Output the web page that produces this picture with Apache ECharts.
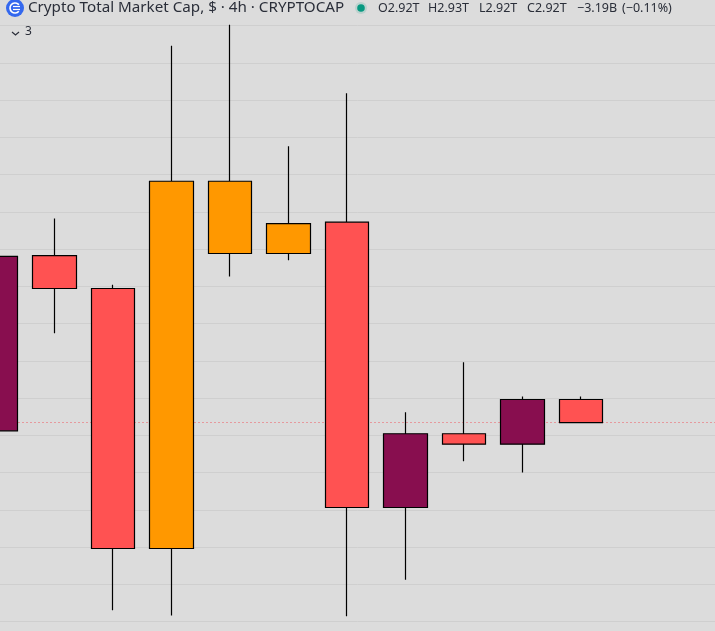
<!DOCTYPE html>
<html>
<head>
<meta charset="utf-8">
<style>html,body{margin:0;padding:0;background:#dcdcdc;overflow:hidden}#c{width:715px;height:631px}</style>
<script src="https://cdn.jsdelivr.net/npm/echarts@6/dist/echarts.min.js"></script>
</head>
<body>
<div id="c"></div>
<script>
// Values are in billions of dollars of market cap.
const categories = ['c1','c2','c3','c4','c5','c6','c7','c8','c9','c10','c11','c12','c13'];
const opens  = [2920.6, 2944.1, 2939.7, 2904.8, 2954.1, 2944.4, 2948.6, 2910.3, 2920.2, 2918.8, 2924.8];
const closes = [2944.0, 2939.7, 2904.8, 2954.1, 2944.4, 2948.4, 2910.3, 2920.2, 2918.8, 2924.8, 2921.7];
const lows   = [2919.0, 2933.7, 2896.5, 2895.8, 2941.3, 2943.5, 2895.7, 2900.6, 2916.5, 2915.0, 2921.7];
const highs  = [2946.0, 2949.1, 2940.2, 2972.3, 2975.1, 2958.8, 2965.9, 2923.1, 2929.8, 2925.2, 2925.2];
const kinds  = ['up','down','down','hot','hot','hot','down','up','down','up','down'];
const kindColors = {up:'#880e4f', down:'#ff5252', hot:'#ff9800'};
const titleText = 'Crypto Total Market Cap, $ · 4h · CRYPTOCAP';
const ohlcLabels = ['O2.92T','H2.93T','L2.92T','C2.92T','−3.19B','(−0.11%)'];
const ohlcLefts = [378,428,479,527,577,622];
const collapsedCount = '3';

const candleData = opens.map((o,i)=>({
  value:[o,closes[i],lows[i],highs[i]],
  itemStyle:{color:kindColors[kinds[i]],color0:kindColors[kinds[i]],borderColor:'#000',borderColor0:'#000',borderWidth:1.2}
}));
const lastClose = closes[closes.length-1];
const font = '"Noto Sans", sans-serif';

const graphic = [
  {type:'rect',shape:{x:0,y:0,width:715,height:24},style:{fill:'#dcdcdc'},z:9},
  {type:'circle',shape:{cx:15,cy:8,r:9},style:{fill:'#3468ee'},z:10},
  {type:'arc',shape:{cx:15,cy:8,r:5,startAngle:0.7,endAngle:5.6},style:{stroke:'#fff',lineWidth:1.6,fill:'none'},z:11},
  {type:'polyline',shape:{points:[[13,6.5],[20,6.5]]},style:{stroke:'#fff',lineWidth:1.2},z:11},
  {type:'polyline',shape:{points:[[13,9.5],[20,9.5]]},style:{stroke:'#fff',lineWidth:1.2},z:11},
  {type:'text',left:28,top:0,style:{text:titleText,font:'15.2px '+font,fill:'#2a2e39'},z:10},
  {type:'circle',shape:{cx:361,cy:8,r:6},style:{fill:'rgba(8,153,129,0.15)'},z:10},
  {type:'circle',shape:{cx:361,cy:8,r:3.8},style:{fill:'#089981'},z:11},
  {type:'polyline',shape:{points:[[12,32],[15.5,35],[19,32]]},style:{stroke:'#2a2e39',lineWidth:1.2,fill:'none'},z:10},
  {type:'text',left:25,top:26,style:{text:collapsedCount,font:'12px '+font,fill:'#2a2e39'},z:10}
];
ohlcLabels.forEach((t,i)=>graphic.push({type:'text',left:ohlcLefts[i],top:1.5,style:{text:t,font:'12.5px '+font,fill:'#2a2e39'},z:10}));

const chart = echarts.init(document.getElementById('c'),null,{renderer:'canvas'});
chart.setOption({
  animation:false,
  backgroundColor:'#dcdcdc',
  grid:{left:-33.5,top:0.5,width:760.5,height:621,outerBoundsMode:'none'},
  xAxis:{type:'category',data:categories,boundaryGap:true,axisLine:{show:false},axisTick:{show:false},axisLabel:{show:false},splitLine:{show:false}},
  yAxis:{type:'value',min:2895,max:2978.36,interval:5,axisLine:{show:false},axisTick:{show:false},axisLabel:{show:false},
    splitLine:{show:true,lineStyle:{color:'#cfcfcf',width:1}}},
  graphic,
  series:[
    {type:'line',data:[],silent:true,z:1,
      markLine:{silent:true,symbol:'none',label:{show:false},z:1,
        lineStyle:{color:'#f0565f',type:[1,3],width:1},
        data:[{yAxis:lastClose}]}},
    {type:'candlestick',data:candleData,barWidth:44,z:3}
  ]
});
</script>
</body>
</html>
